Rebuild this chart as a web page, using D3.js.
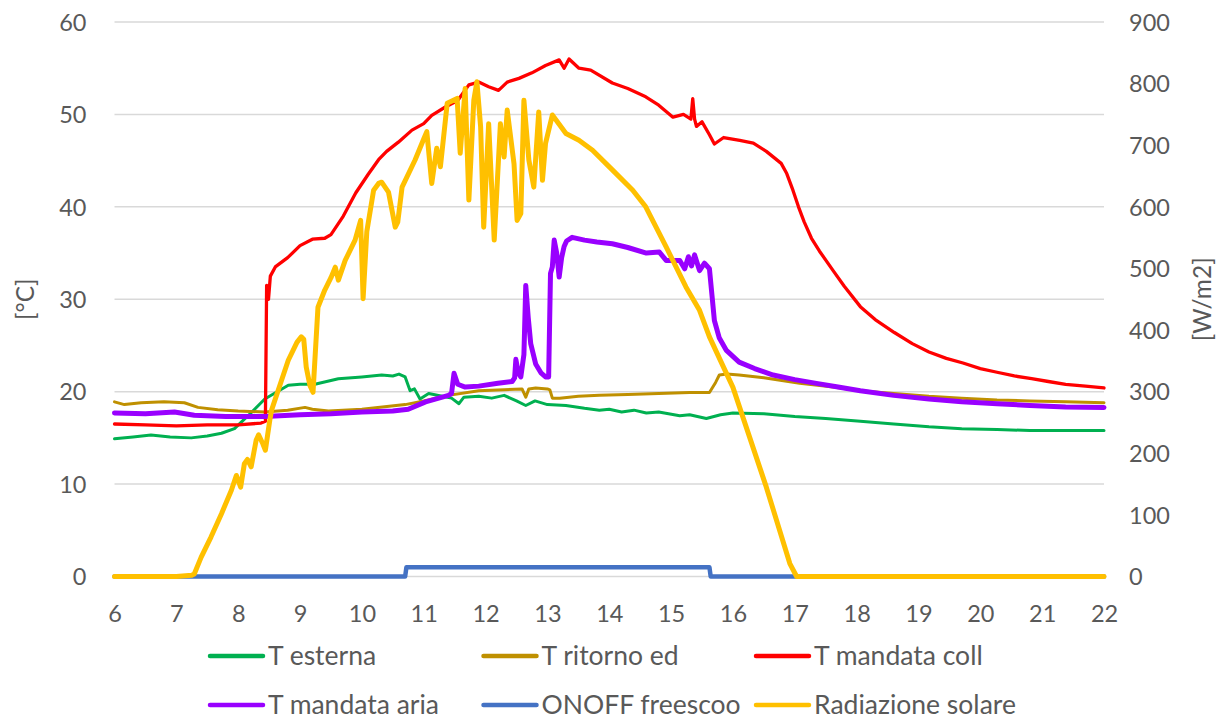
<!DOCTYPE html>
<html>
<head>
<meta charset="utf-8">
<script src="https://cdn.jsdelivr.net/npm/d3@7"></script>
<style>
  html, body { margin: 0; padding: 0; background: #ffffff; }
  svg { display: block; }
  text { font-family: Lato, "Open Sans", sans-serif; fill: #595959; }
</style>
</head>
<body>
<svg id="chart" width="1222" height="720"></svg>
<script>
// ---------------- data (hour, value) ----------------
const xTicks = [6,7,8,9,10,11,12,13,14,15,16,17,18,19,20,21,22];
const yLeftTicks = [0,10,20,30,40,50,60];
const yRightTicks = [0,100,200,300,400,500,600,700,800,900];

const tEsterna = [[6.0,14.9],[6.3,15.1],[6.59,15.3],[6.9,15.1],[7.24,15.0],[7.5,15.2],[7.73,15.5],[7.94,16.0],[8.16,17.4],[8.43,19.2],[8.81,20.7],[9.0,20.8],[9.24,20.8],[9.62,21.4],[10.0,21.6],[10.32,21.8],[10.5,21.7],[10.6,21.9],[10.70,21.6],[10.78,20.1],[10.85,20.3],[10.94,19.2],[11.08,19.8],[11.3,19.5],[11.45,19.3],[11.57,18.7],[11.65,19.4],[11.89,19.5],[12.1,19.3],[12.3,19.6],[12.5,19.0],[12.65,18.5],[12.8,19.0],[13.0,18.6],[13.3,18.5],[13.6,18.2],[13.84,18.0],[14.0,18.1],[14.2,17.8],[14.4,18.0],[14.6,17.7],[14.8,17.8],[15.14,17.4],[15.3,17.5],[15.57,17.1],[15.8,17.5],[16.0,17.7],[16.5,17.6],[17.0,17.3],[17.5,17.1],[18.06,16.8],[18.6,16.5],[19.17,16.2],[19.7,16.0],[20.27,15.9],[20.8,15.8],[21.38,15.8],[22,15.8]];

const tRitorno = [[6.0,18.9],[6.16,18.6],[6.43,18.8],[6.8,18.9],[7.13,18.8],[7.35,18.3],[7.67,18.05],[8.0,17.9],[8.43,17.8],[8.8,18.0],[9.08,18.3],[9.2,18.1],[9.46,17.9],[10.0,18.1],[10.70,18.6],[11.0,19.0],[11.4,19.6],[11.89,20.1],[12.3,20.2],[12.59,20.3],[12.65,19.4],[12.7,20.3],[12.81,20.4],[13.0,20.3],[13.04,20.2],[13.08,19.3],[13.2,19.3],[13.5,19.5],[13.84,19.6],[14.3,19.7],[14.8,19.8],[15.3,19.9],[15.62,19.9],[15.72,21.0],[15.78,21.8],[15.9,21.9],[16.1,21.8],[16.5,21.5],[17.08,20.9],[17.62,20.5],[18.06,20.1],[18.6,19.8],[19.17,19.5],[19.7,19.3],[20.27,19.1],[20.8,19.0],[21.38,18.9],[22,18.8]];

const tMandataColl = [[6.0,16.5],[6.5,16.4],[7.0,16.3],[7.5,16.4],[8.0,16.4],[8.37,16.6],[8.44,16.8],[8.46,31.5],[8.49,30.0],[8.52,32.5],[8.6,33.5],[8.8,34.5],[9.0,35.8],[9.2,36.5],[9.4,36.6],[9.5,37.0],[9.7,39.0],[9.9,41.5],[10.1,43.5],[10.27,45.1],[10.4,46.0],[10.59,47.0],[10.81,48.3],[11.0,49.0],[11.13,49.9],[11.35,50.8],[11.55,51.5],[11.73,53.2],[11.89,53.5],[12.05,53.0],[12.21,52.6],[12.35,53.5],[12.54,53.9],[12.75,54.5],[12.97,55.3],[13.19,55.9],[13.27,55.0],[13.35,56.0],[13.51,55.0],[13.7,54.8],[14.05,53.4],[14.3,52.8],[14.59,51.9],[14.8,51.0],[15.03,49.7],[15.2,50.0],[15.32,49.5],[15.35,51.7],[15.38,49.5],[15.41,48.7],[15.5,49.2],[15.62,47.8],[15.7,46.8],[15.85,47.5],[16.11,47.2],[16.33,46.9],[16.54,46.0],[16.78,44.7],[16.87,43.6],[16.97,41.8],[17.06,40.0],[17.15,38.4],[17.27,36.6],[17.4,35.2],[17.62,33.1],[17.8,31.4],[18.06,29.2],[18.3,27.8],[18.61,26.4],[18.9,25.2],[19.17,24.3],[19.45,23.6],[19.72,23.1],[20.0,22.5],[20.27,22.1],[20.55,21.7],[20.83,21.4],[21.1,21.1],[21.38,20.8],[21.7,20.6],[22,20.4]];

const tMandataAria = [[6.0,17.7],[6.5,17.6],[6.97,17.8],[7.29,17.45],[7.8,17.3],[8.43,17.3],[9.0,17.5],[9.5,17.6],[10.0,17.8],[10.5,17.9],[10.75,18.1],[11.03,18.9],[11.40,19.6],[11.45,19.8],[11.49,22.0],[11.55,20.8],[11.67,20.5],[11.89,20.6],[12.2,20.9],[12.43,21.1],[12.47,21.5],[12.49,23.5],[12.53,22.0],[12.57,21.6],[12.62,24.0],[12.65,31.5],[12.69,28.0],[12.73,25.2],[12.81,23.0],[12.9,22.0],[12.97,21.6],[13.02,21.6],[13.05,32.8],[13.08,33.5],[13.11,36.4],[13.15,35.0],[13.19,32.4],[13.23,34.5],[13.27,35.7],[13.31,36.3],[13.40,36.7],[13.6,36.4],[13.8,36.2],[14.05,36.0],[14.3,35.6],[14.6,35.0],[14.81,35.1],[14.92,34.2],[15.14,34.2],[15.22,33.3],[15.28,34.6],[15.33,33.6],[15.38,34.8],[15.46,33.1],[15.54,33.9],[15.62,33.3],[15.66,30.5],[15.70,27.7],[15.78,25.8],[15.89,24.5],[16.10,23.2],[16.35,22.5],[16.65,21.8],[17.0,21.3],[17.35,20.9],[17.7,20.5],[18.06,20.1],[18.6,19.6],[19.17,19.2],[19.7,18.9],[20.27,18.7],[20.8,18.5],[21.38,18.35],[22,18.3]];

const onoffFreescoo = [[6,0],[10.70,0],[10.72,1],[15.62,1],[15.64,0],[22,0]];

const radiazioneSolare = [[6,0],[7.0,0],[7.25,2],[7.29,4],[7.40,31],[7.56,64],[7.73,102],[7.89,140],[7.97,164],[8.04,145],[8.10,183],[8.15,190],[8.21,178],[8.29,221],[8.33,230],[8.40,215],[8.44,205],[8.51,253],[8.54,270],[8.70,318],[8.81,351],[8.95,380],[9.02,389],[9.06,385],[9.10,340],[9.16,310],[9.21,299],[9.29,437],[9.40,465],[9.50,485],[9.57,502],[9.62,481],[9.73,513],[9.89,546],[9.98,578],[10.02,451],[10.08,560],[10.19,627],[10.27,638],[10.32,640],[10.43,624],[10.54,567],[10.58,575],[10.65,632],[10.86,676],[11.0,710],[11.05,722],[11.13,638],[11.21,695],[11.27,665],[11.38,768],[11.54,776],[11.59,687],[11.67,792],[11.73,611],[11.81,773],[11.86,803],[11.92,730],[11.97,567],[12.05,735],[12.14,546],[12.24,735],[12.30,681],[12.35,757],[12.46,670],[12.51,578],[12.57,589],[12.62,773],[12.70,676],[12.78,632],[12.86,754],[12.92,643],[12.97,703],[13.08,749],[13.30,719],[13.51,708],[13.73,692],[14.05,660],[14.38,627],[14.59,600],[14.92,535],[15.24,470],[15.46,432],[15.62,389],[16.0,307],[16.54,145],[16.92,21],[17.03,0],[22,0]];

const seriesNames = ["T esterna","T ritorno ed","T mandata coll","T mandata aria","ONOFF freescoo","Radiazione solare"];
const seriesColors = ["#00B050","#BF9000","#FF0000","#9900FF","#4472C4","#FFC000"];
const seriesWidths = [3,3,3.3,5,4.5,5];
const seriesData = [tEsterna,tRitorno,tMandataColl,tMandataAria,onoffFreescoo,radiazioneSolare];
const seriesAxis = ["L","L","L","L","L","R"];

// ---------------- chart ----------------
const plot = {left: 114.5, right: 1104, top: 22, bottom: 576.5};
const svg = d3.select("#chart");
const fsTick = 23.5, fsLegend = 26.5, fsTitle = 24.5;

const x = d3.scaleLinear().domain([6,22]).range([plot.left, plot.right]);
const yL = d3.scaleLinear().domain([0,60]).range([plot.bottom, plot.top]);
const yR = d3.scaleLinear().domain([0,900]).range([plot.bottom, plot.top]);

// gridlines
svg.append("g").selectAll("line").data(yLeftTicks).join("line")
  .attr("x1", plot.left).attr("x2", plot.right)
  .attr("y1", d => yL(d)).attr("y2", d => yL(d))
  .attr("stroke", "#D9D9D9").attr("stroke-width", 1.5);

// left axis
const axL = svg.append("g").attr("transform", `translate(${plot.left},0)`)
  .call(d3.axisLeft(yL).tickValues(yLeftTicks).tickSize(0));
axL.select(".domain").remove();
axL.selectAll("text").style("font-size", fsTick + "px").attr("fill", "#595959").attr("dy", "0.35em").attr("x", -28);

// right axis
const axR = svg.append("g").attr("transform", `translate(${plot.right},0)`)
  .call(d3.axisRight(yR).tickValues(yRightTicks).tickSize(0));
axR.select(".domain").remove();
axR.selectAll("text").style("font-size", fsTick + "px").attr("fill", "#595959").attr("dy", "0.35em").attr("x", 25);

// bottom axis
const axB = svg.append("g").attr("transform", `translate(0,${plot.bottom})`)
  .call(d3.axisBottom(x).tickValues(xTicks).tickFormat(d3.format("d")).tickSize(0));
axB.select(".domain").remove();
axB.selectAll("text").style("font-size", fsTick + "px").attr("fill", "#595959").attr("y", 37.5).attr("dy", "0.35em");

// axis titles
svg.append("text").attr("transform", `translate(25,${(plot.top+plot.bottom)/2}) rotate(-90)`)
  .attr("text-anchor", "middle").attr("dy", "0.35em").style("font-size", fsTitle + "px").text("[°C]");
svg.append("text").attr("transform", `translate(1202,${(plot.top+plot.bottom)/2}) rotate(-90)`)
  .attr("text-anchor", "middle").attr("dy", "0.35em").style("font-size", fsTitle + "px").text("[W/m2]");

// lines
seriesData.forEach((data, i) => {
  const ys = seriesAxis[i] === "L" ? yL : yR;
  const line = d3.line().x(d => x(d[0])).y(d => ys(d[1]));
  svg.append("path").datum(data)
    .attr("d", line)
    .attr("fill", "none")
    .attr("stroke", seriesColors[i])
    .attr("stroke-width", seriesWidths[i])
    .attr("stroke-linejoin", "round")
    .attr("stroke-linecap", "round");
});

// legend
const legCols = [210, 483.5, 756];
const legRows = [656, 705];
seriesNames.forEach((name, i) => {
  const cx = legCols[i % 3], cy = legRows[Math.floor(i / 3)];
  const g = svg.append("g");
  g.append("line").attr("x1", cx).attr("x2", cx + 53).attr("y1", cy).attr("y2", cy)
    .attr("stroke", seriesColors[i]).attr("stroke-width", 4.5).attr("stroke-linecap", "round");
  g.append("text").attr("x", cx + 58).attr("y", cy).attr("dy", "0.35em")
    .style("font-size", fsLegend + "px").text(name);
});
</script>
</body>
</html>
